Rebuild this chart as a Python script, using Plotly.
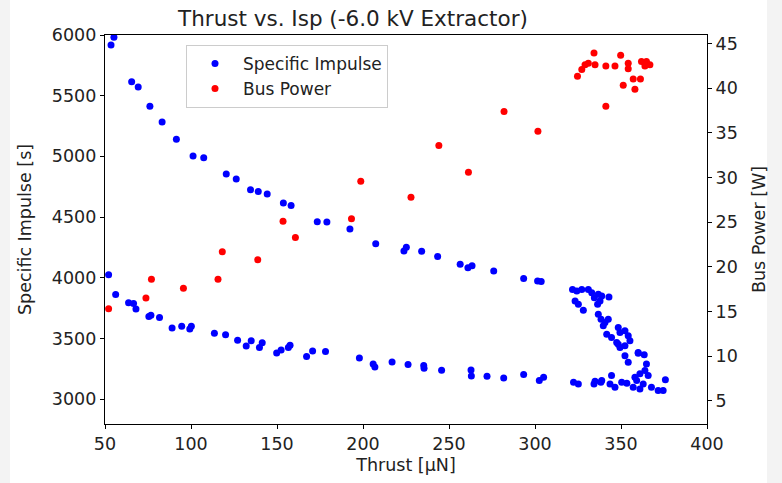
import plotly.graph_objects as go

# Specific impulse data (thrust in µN, Isp in s)
isp_thrust = [53.5, 55.2, 65.5, 69.3, 76.1, 83.2, 91.5, 101.2, 107.4, 120.5, 126.3, 134.6, 139.1, 144.3,
              153.7, 158.2, 173.4, 179.0, 192.4, 207.4, 223.8, 225.2, 234.1, 243.4, 256.5, 261.0, 263.4,
              276.0, 293.4, 301.5, 303.6,
              321.8, 324.3, 327.2, 331.0, 333.0, 336.8, 338.8, 343.0, 323.3, 325.2, 328.1, 334.5, 336.4,
              337.8, 336.8, 338.4, 340.7, 342.6, 339.7, 341.7, 344.5, 348.4, 349.4, 352.3, 354.2, 355.2,
              347.5, 349.4, 352.3, 360.0, 348.4, 352.3, 354.2, 360.0, 363.5, 364.8, 363.9, 365.8, 361.0,
              358.1,
              52.1, 56.2, 63.7, 66.6, 68.0, 75.5, 76.7, 81.7, 89.0, 94.6, 99.3, 100.2, 113.6, 120.1, 127.1,
              132.1, 135.0, 139.8, 141.4, 149.8, 152.4, 156.6, 157.6, 167.2, 170.7, 178.2, 197.9, 205.9,
              206.9, 216.9, 226.2, 235.3, 235.5, 245.7, 262.8, 263.0, 272.1, 281.8, 293.4, 302.5, 305.0,
              322.4, 325.2, 334.3, 338.3, 334.9, 338.8, 344.5, 343.6, 346.5, 350.4, 353.4, 359.1, 357.1,
              361.0, 362.9, 367.7, 371.6, 374.5, 375.8]
isp_values = [5918, 5981, 5615, 5571, 5412, 5284, 5142, 5003, 4989, 4855, 4814, 4724, 4711, 4691,
              4615, 4596, 4461, 4459, 4402, 4281, 4221, 4251, 4219, 4175, 4112, 4082, 4098,
              4055, 3994, 3973, 3970,
              3904, 3891, 3904, 3904, 3877, 3863, 3850, 3842, 3809, 3781, 3732, 3836, 3781,
              3809, 3699, 3658, 3631, 3658, 3604, 3535, 3508, 3590, 3549, 3563, 3522, 3481,
              3467, 3426, 3440, 3385, 3453, 3358, 3303, 3377, 3366, 3290, 3235, 3194, 3208,
              3180,
              4025, 3861, 3795, 3787, 3743, 3680, 3691, 3672, 3585, 3601, 3577, 3601, 3543, 3530, 3486,
              3437, 3481, 3426, 3465, 3380, 3404, 3426, 3443, 3352, 3396, 3393, 3339, 3290,
              3265, 3306, 3285, 3276, 3254, 3238, 3240, 3191, 3189, 3175, 3203, 3153, 3180,
              3139, 3125, 3125, 3139, 3148, 3153, 3194, 3125, 3098, 3139, 3131, 3153, 3098,
              3084, 3125, 3098, 3071, 3071, 3159]

# Bus power data (thrust in µN, power in W)
power_thrust = [52.1, 73.8, 77.0, 95.6, 115.7, 118.2, 138.8, 153.5, 160.7, 193.3, 198.7, 227.9, 244.1,
                261.3, 282.0, 301.7, 324.7, 327.2, 329.1, 331.0, 334.3, 334.9, 341.2, 341.2, 346.5, 349.8,
                351.3, 354.2, 354.2, 357.1, 358.1, 361.3, 361.9, 363.9, 364.8, 366.8]
power_values = [15.3, 16.5, 18.6, 17.6, 18.6, 21.7, 20.8, 25.1, 23.3, 25.4, 29.6, 27.8, 33.6,
                30.6, 37.4, 35.2, 41.35, 42.1, 42.65, 42.8, 43.96, 42.65, 42.5, 38.0, 42.5, 43.7,
                40.35, 42.8, 42.2, 41.05, 39.9, 41.05, 43.0, 42.5, 43.0, 42.65]

x_ticks = [50, 100, 150, 200, 250, 300, 350, 400]
isp_ticks = [3000, 3500, 4000, 4500, 5000, 5500, 6000]
power_ticks = [5, 10, 15, 20, 25, 30, 35, 40, 45]

FONT = "DejaVu Sans"
TXT = "#222"
L, R, T, B = 105, 707, 35, 427

fig = go.Figure()
fig.add_trace(go.Scatter(x=isp_thrust, y=isp_values, mode="markers", name="Specific Impulse",
                         marker=dict(color="#0000ff", size=7, line=dict(width=0))))
fig.add_trace(go.Scatter(x=power_thrust, y=power_values, mode="markers", name="Bus Power", yaxis="y2",
                         marker=dict(color="#ff0000", size=7, line=dict(width=0))))

axis_common = dict(showgrid=False, zeroline=False, showline=True, linecolor="black", linewidth=1.2,
                   ticks="outside", ticklen=4, tickcolor="black",
                   tickfont=dict(family=FONT, size=17.5, color=TXT))

fig.update_layout(
    width=782, height=483,
    margin=dict(l=L, r=782 - R, t=T, b=483 - B),
    paper_bgcolor="#f3f3f3", plot_bgcolor="white",
    title=dict(text="Thrust vs. Isp (-6.0 kV Extractor)", x=353/782, xanchor="center", y=1 - 18/483,
               yanchor="middle", font=dict(family=FONT, size=21.5, color=TXT)),
    xaxis=dict(range=[50, 400], tickvals=x_ticks, mirror=True, automargin=True,
               title=dict(text="Thrust [μN]", font=dict(family=FONT, size=17.5, color=TXT), standoff=5),
               **axis_common),
    yaxis=dict(range=[2795, 6000], tickvals=isp_ticks, mirror=True, automargin=False,
               title=dict(text="Specific Impulse [s]", font=dict(family=FONT, size=17.5, color=TXT)),
               **axis_common),
    yaxis2=dict(range=[2.4, 45.97], tickvals=power_ticks, overlaying="y", side="right", automargin=False,
                title=dict(text="Bus Power [W]", font=dict(family=FONT, size=17.5, color=TXT)),
                **axis_common),
    legend=dict(x=(186 - L) / (R - L), y=1 - (45 - T) / (B - T), xanchor="left", yanchor="top",
                bgcolor="white", bordercolor="#cccccc", borderwidth=1, tracegroupgap=0,
                font=dict(family=FONT, size=17, color=TXT), itemwidth=46),
    showlegend=True,
    shapes=[dict(type="rect", xref="paper", yref="paper", x0=(10 - L) / (R - L), x1=(767 - L) / (R - L),
                 y0=-0.3, y1=1.3, fillcolor="white", line=dict(width=0), layer="below")],
)

fig.write_html("out.html")
